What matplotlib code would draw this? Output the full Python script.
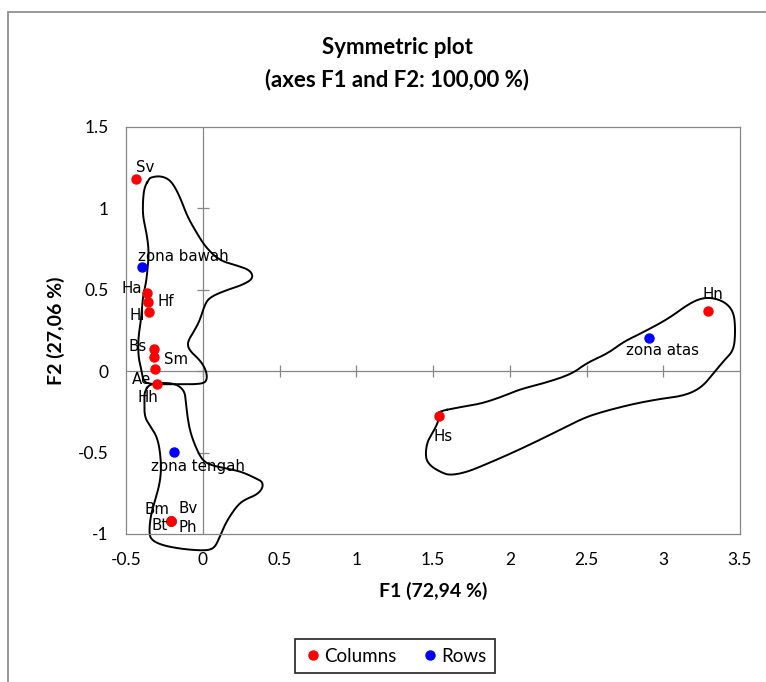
import numpy as np
import matplotlib
matplotlib.use("Agg")
import matplotlib.pyplot as plt
from matplotlib.patches import Rectangle

# Column points (red)
col_labels = ["Sv", "Ha", "Hf", "Hl", "Bs", "Sm", "Ae", "Hh", "Bm", "Bv", "Bt", "Ph", "Hs", "Hn"]
col_f1 = [-0.437, -0.360, -0.356, -0.350, -0.320, -0.319, -0.310, -0.300, -0.208, -0.208, -0.208, -0.208, 1.540, 3.290]
col_f2 = [1.180, 0.482, 0.423, 0.362, 0.135, 0.085, 0.013, -0.079, -0.918, -0.918, -0.918, -0.918, -0.275, 0.370]

# Row points (blue)
row_labels = ["zona bawah", "zona tengah", "zona atas"]
row_f1 = [-0.393, -0.186, 2.907]
row_f2 = [0.638, -0.494, 0.202]

x_ticks = [-0.5, 0, 0.5, 1, 1.5, 2, 2.5, 3, 3.5]
y_ticks = [-1, -0.5, 0, 0.5, 1, 1.5]

# hand-drawn group outlines (F1, F2)
upper_x = [-0.35, -0.38, -0.39, -0.39, -0.37, -0.35, -0.36, -0.37, -0.39, -0.40, -0.42, -0.42, -0.40, -0.39,
           -0.36, -0.18, 0.00, 0.03, 0.02, -0.02, -0.09, -0.10, -0.06, -0.02, 0.01, 0.04, 0.13, 0.26, 0.33,
           0.31, 0.22, 0.11, 0.02, -0.04, -0.10, -0.14, -0.18, -0.22, -0.28, -0.34]
upper_y = [1.18, 1.13, 1.05, 0.95, 0.87, 0.74, 0.62, 0.54, 0.46, 0.33, 0.21, 0.09, 0.01, -0.05,
           -0.08, -0.08, -0.08, -0.05, 0.01, 0.07, 0.13, 0.18, 0.24, 0.31, 0.40, 0.45, 0.49, 0.53, 0.57,
           0.62, 0.65, 0.68, 0.76, 0.85, 0.95, 1.05, 1.13, 1.18, 1.20, 1.19]
lower_x = [-0.35, -0.38, -0.38, -0.38, -0.34, -0.30, -0.28, -0.27, -0.28, -0.31, -0.34, -0.35, -0.33, -0.26,
           -0.15, -0.04, 0.04, 0.08, 0.11, 0.15, 0.22, 0.27, 0.35, 0.39, 0.39, 0.35, 0.26, 0.17, 0.06,
           0.00, -0.04, -0.08, -0.10, -0.11, -0.12, -0.17, -0.25]
lower_y = [-0.08, -0.13, -0.18, -0.28, -0.34, -0.40, -0.48, -0.59, -0.69, -0.79, -0.89, -1.00, -1.04, -1.07,
           -1.09, -1.10, -1.10, -1.08, -1.02, -0.93, -0.83, -0.79, -0.76, -0.72, -0.68, -0.66, -0.62, -0.60, -0.58,
           -0.55, -0.48, -0.38, -0.28, -0.18, -0.12, -0.08, -0.07]
right_x = [1.52, 1.68, 1.81, 1.94, 2.07, 2.20, 2.40, 2.50, 2.64, 2.74, 2.85, 3.03, 3.16, 3.25, 3.33, 3.41,
           3.46, 3.47, 3.46, 3.40, 3.33, 3.25, 3.14, 2.98, 2.81, 2.64, 2.50, 2.37, 2.20, 2.02, 1.85, 1.72,
           1.61, 1.55, 1.48, 1.45, 1.46, 1.49, 1.52, 1.54]
right_y = [-0.25, -0.22, -0.20, -0.16, -0.11, -0.08, -0.02, 0.05, 0.11, 0.18, 0.23, 0.32, 0.41, 0.45, 0.45, 0.42,
           0.36, 0.25, 0.13, 0.07, -0.01, -0.10, -0.15, -0.17, -0.20, -0.24, -0.28, -0.34, -0.42, -0.50, -0.57, -0.62,
           -0.64, -0.62, -0.58, -0.53, -0.44, -0.39, -0.34, -0.29]

# label offsets in pixels (dx, dy down) and alignment
col_offsets = {"Sv": (0, -12, "left"), "Ha": (-5, -4, "right"), "Hf": (9, -1, "left"),
               "Hl": (-4, 3, "right"), "Bs": (-7, -3, "right"), "Sm": (10, 2, "left"),
               "Ae": (-4, 10, "right"), "Hh": (2, 13, "right"), "Bm": (-1, -11, "right"),
               "Bv": (8, -12, "left"), "Bt": (-3, 5, "right"), "Ph": (8, 7, "left"),
               "Hs": (-6, 21, "left"), "Hn": (-5, -16, "left")}
row_offsets = {"zona bawah": (-4, -11, "left"), "zona tengah": (-23, 15, "left"),
               "zona atas": (-23, 12, "left")}


def smooth(xs, ys, n=3):
    pts = np.column_stack([xs, ys])
    for _ in range(n):
        nxt = np.roll(pts, -1, axis=0)
        q = 0.75 * pts + 0.25 * nxt
        r = 0.25 * pts + 0.75 * nxt
        pts = np.empty((len(q) * 2, 2))
        pts[0::2] = q
        pts[1::2] = r
    pts = np.vstack([pts, pts[:1]])
    return pts[:, 0], pts[:, 1]


fig = plt.figure(figsize=(7.66, 6.82), dpi=100)
ax = fig.add_axes([126 / 766, 1 - 534 / 682, 614 / 766, 407 / 682])

grey = "#868686"
ax.set_xlim(-0.5, 3.5)
ax.set_ylim(-1, 1.5)
for s in ax.spines.values():
    s.set_color(grey)
    s.set_linewidth(0.9)
ax.axhline(0, color=grey, lw=0.9, zorder=1)
ax.axvline(0, color=grey, lw=0.9, zorder=1)
ax.plot(x_ticks[1:-1], [0] * (len(x_ticks) - 2), ls="none", marker="|", ms=8.5, mew=0.9, color=grey, zorder=1)
ax.plot([0] * (len(y_ticks) - 2), y_ticks[1:-1], ls="none", marker="_", ms=8.5, mew=0.9, color=grey, zorder=1)

ax.set_xticks(x_ticks)
ax.set_xticklabels([f"{t:g}" for t in x_ticks])
ax.set_yticks(y_ticks)
ax.set_yticklabels([f"{t:g}" for t in y_ticks])
ax.tick_params(axis="x", length=0, labelsize=12.5, pad=13)
ax.tick_params(axis="y", length=0, labelsize=12.5, pad=12.5)
for lab in ax.get_xticklabels() + ax.get_yticklabels():
    lab.set_fontfamily("Lato")

for xs, ys in [(upper_x, upper_y), (lower_x, lower_y), (right_x, right_y)]:
    sx, sy = smooth(xs, ys)
    ax.plot(sx, sy, color="black", lw=1.4, clip_on=False, zorder=2)

ax.plot(col_f1, col_f2, "o", color="#FF0000", ms=6.5, zorder=3, label="Columns")
ax.plot(row_f1, row_f2, "o", color="#0000FF", ms=6.5, zorder=3, label="Rows")

for lab, x, y in zip(col_labels, col_f1, col_f2):
    dx, dy, ha = col_offsets[lab]
    ax.annotate(lab, (x, y), xytext=(dx * 0.72, -dy * 0.72), textcoords="offset points",
                ha=ha, va="center", fontsize=10.8, zorder=4)
for lab, x, y in zip(row_labels, row_f1, row_f2):
    dx, dy, ha = row_offsets[lab]
    ax.annotate(lab, (x, y), xytext=(dx * 0.72, -dy * 0.72), textcoords="offset points",
                ha=ha, va="center", fontsize=10.8, zorder=4)

ax.set_xlabel("F1 (72,94 %)", fontfamily="Lato", fontweight="bold", fontsize=14, labelpad=10)
ax.set_ylabel("F2 (27,06 %)", fontfamily="Lato", fontweight="bold", fontsize=14, labelpad=9)

fig.text(397 / 766, 1 - 64 / 682, "Symmetric plot\n(axes F1 and F2: 100,00 %)", ha="center", va="center",
         fontfamily="Lato", fontweight="bold", fontsize=16, linespacing=1.6)

leg = fig.legend(loc="center", bbox_to_anchor=(395 / 766, 1 - 656 / 682), ncol=2, frameon=True,
                 fancybox=False, handletextpad=0.1, columnspacing=1.3, handlelength=1.0,
                 prop={"family": "Lato", "size": 13.5}, borderpad=0.45)
leg.get_frame().set_edgecolor("black")
leg.get_frame().set_linewidth(1.3)

fig.add_artist(Rectangle((8 / 766, -0.1), 1.2, 1.1 - 13 / 682 + 0.001, transform=fig.transFigure,
                         fill=False, edgecolor=grey, lw=1.2))

fig.savefig("out.png", dpi=100)
